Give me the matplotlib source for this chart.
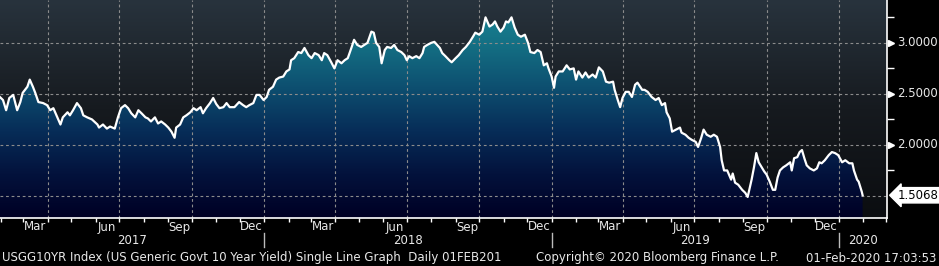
import numpy as np
import pandas as pd
import matplotlib
matplotlib.use("Agg")
import matplotlib.pyplot as plt
import matplotlib.dates as mdates
from matplotlib.colors import LinearSegmentedColormap
from matplotlib.transforms import blended_transform_factory

# USGG10YR yield (roughly every 4 days)
dates_2017 = ["2017-01-30", "2017-02-03", "2017-02-07", "2017-02-11", "2017-02-16", "2017-02-21",
              "2017-02-25", "2017-02-28", "2017-03-06", "2017-03-09", "2017-03-13", "2017-03-16",
              "2017-03-20", "2017-03-26", "2017-03-31", "2017-04-04", "2017-04-08", "2017-04-13",
              "2017-04-17", "2017-04-20", "2017-04-26", "2017-04-29", "2017-05-03", "2017-05-08",
              "2017-05-13", "2017-05-16", "2017-05-21", "2017-05-27", "2017-06-03", "2017-06-05",
              "2017-06-10", "2017-06-15", "2017-06-19", "2017-06-25", "2017-06-29", "2017-07-03",
              "2017-07-08", "2017-07-12", "2017-07-16", "2017-07-21", "2017-07-25", "2017-07-29",
              "2017-08-03", "2017-08-06", "2017-08-10", "2017-08-15", "2017-08-19", "2017-08-23",
              "2017-08-28", "2017-09-01", "2017-09-05", "2017-09-09", "2017-09-11", "2017-09-16",
              "2017-09-20", "2017-09-24", "2017-09-29", "2017-10-03", "2017-10-07", "2017-10-12",
              "2017-10-15", "2017-10-19", "2017-10-24", "2017-10-28", "2017-11-01", "2017-11-05",
              "2017-11-10", "2017-11-14", "2017-11-18", "2017-11-24", "2017-11-30", "2017-12-05",
              "2017-12-09", "2017-12-13", "2017-12-18", "2017-12-22", "2017-12-26", "2017-12-31"]
yield_2017 = [2.47, 2.44, 2.34, 2.46, 2.49, 2.34, 2.42, 2.51, 2.57, 2.64,
              2.57, 2.51, 2.42, 2.41, 2.39, 2.34, 2.36, 2.27, 2.20, 2.27,
              2.32, 2.29, 2.34, 2.41, 2.36, 2.29, 2.27, 2.25, 2.20, 2.17,
              2.20, 2.16, 2.18, 2.16, 2.27, 2.36, 2.39, 2.36, 2.31, 2.27,
              2.34, 2.31, 2.27, 2.26, 2.23, 2.27, 2.21, 2.23, 2.20, 2.17,
              2.13, 2.07, 2.17, 2.20, 2.27, 2.29, 2.32, 2.36, 2.34, 2.37,
              2.31, 2.36, 2.41, 2.46, 2.40, 2.36, 2.37, 2.41, 2.37, 2.37,
              2.42, 2.39, 2.37, 2.39, 2.41, 2.49, 2.49, 2.44]

dates_2018 = ["2018-01-04", "2018-01-07", "2018-01-12", "2018-01-16", "2018-01-20", "2018-01-25",
              "2018-01-29", "2018-02-02", "2018-02-04", "2018-02-08", "2018-02-13", "2018-02-17",
              "2018-02-21", "2018-02-26", "2018-03-02", "2018-03-06", "2018-03-11", "2018-03-15",
              "2018-03-18", "2018-03-22", "2018-03-27", "2018-03-31", "2018-04-04", "2018-04-09",
              "2018-04-13", "2018-04-17", "2018-04-22", "2018-04-25", "2018-04-29", "2018-05-04",
              "2018-05-08", "2018-05-12", "2018-05-17", "2018-05-20", "2018-05-23", "2018-05-27",
              "2018-05-30", "2018-06-03", "2018-06-06", "2018-06-11", "2018-06-15", "2018-06-19",
              "2018-06-24", "2018-06-28", "2018-07-01", "2018-07-04", "2018-07-08", "2018-07-13",
              "2018-07-17", "2018-07-21", "2018-07-23", "2018-07-27", "2018-08-01", "2018-08-05",
              "2018-08-12", "2018-08-15", "2018-08-19", "2018-08-24", "2018-08-27", "2018-09-01",
              "2018-09-05", "2018-09-10", "2018-09-14", "2018-09-19", "2018-09-23", "2018-09-26",
              "2018-10-01", "2018-10-05", "2018-10-09", "2018-10-14", "2018-10-18", "2018-10-21",
              "2018-10-24", "2018-10-28", "2018-11-01", "2018-11-04", "2018-11-07", "2018-11-11",
              "2018-11-15", "2018-11-19", "2018-11-23", "2018-11-28", "2018-12-02", "2018-12-05",
              "2018-12-10", "2018-12-14", "2018-12-18", "2018-12-22", "2018-12-26", "2018-12-28"]
yield_2018 = [2.47, 2.54, 2.57, 2.64, 2.66, 2.67, 2.72, 2.74, 2.83, 2.85,
              2.91, 2.90, 2.95, 2.88, 2.85, 2.90, 2.88, 2.83, 2.90, 2.88,
              2.81, 2.75, 2.83, 2.80, 2.83, 2.85, 2.96, 3.03, 2.98, 2.96,
              2.98, 3.00, 3.11, 3.10, 3.00, 2.96, 2.80, 2.93, 2.96, 2.95,
              2.98, 2.93, 2.91, 2.88, 2.83, 2.87, 2.85, 2.87, 2.85, 2.90,
              2.96, 2.98, 3.00, 3.01, 2.95, 2.90, 2.87, 2.83, 2.81, 2.85,
              2.88, 2.93, 2.96, 3.01, 3.06, 3.10, 3.08, 3.11, 3.25, 3.16,
              3.18, 3.21, 3.16, 3.11, 3.15, 3.21, 3.20, 3.25, 3.15, 3.08,
              3.06, 3.08, 3.00, 2.91, 2.90, 2.93, 2.91, 2.78, 2.80, 2.75]

dates_2019 = ["2019-01-01", "2019-01-04", "2019-01-06", "2019-01-10", "2019-01-15", "2019-01-20",
              "2019-01-24", "2019-01-29", "2019-02-01", "2019-02-04", "2019-02-09", "2019-02-13",
              "2019-02-17", "2019-02-22", "2019-02-26", "2019-03-02", "2019-03-07", "2019-03-11",
              "2019-03-15", "2019-03-20", "2019-03-22", "2019-03-26", "2019-03-29", "2019-04-01",
              "2019-04-05", "2019-04-09", "2019-04-13", "2019-04-17", "2019-04-20", "2019-04-26",
              "2019-04-29", "2019-05-03", "2019-05-08", "2019-05-13", "2019-05-17", "2019-05-21",
              "2019-05-25", "2019-05-27", "2019-05-31", "2019-06-03", "2019-06-08", "2019-06-13",
              "2019-06-15", "2019-06-20", "2019-06-24", "2019-06-28", "2019-07-03", "2019-07-06",
              "2019-07-10", "2019-07-13", "2019-07-17", "2019-07-22", "2019-07-26", "2019-07-30",
              "2019-08-03", "2019-08-05", "2019-08-08", "2019-08-12", "2019-08-17", "2019-08-19",
              "2019-08-22", "2019-08-26", "2019-08-31", "2019-09-04", "2019-09-07", "2019-09-12",
              "2019-09-15", "2019-09-18", "2019-09-21", "2019-09-28", "2019-10-01", "2019-10-05",
              "2019-10-09", "2019-10-12", "2019-10-15", "2019-10-18", "2019-10-22", "2019-10-26",
              "2019-10-31", "2019-11-02", "2019-11-05", "2019-11-09", "2019-11-12", "2019-11-15",
              "2019-11-18", "2019-11-21", "2019-11-25", "2019-11-30", "2019-12-04", "2019-12-07",
              "2019-12-10", "2019-12-14", "2019-12-19", "2019-12-23", "2019-12-27", "2019-12-31"]
yield_2019 = [2.67, 2.56, 2.67, 2.72, 2.72, 2.78, 2.74, 2.75, 2.64, 2.72,
              2.66, 2.71, 2.66, 2.69, 2.66, 2.76, 2.72, 2.62, 2.61, 2.62,
              2.54, 2.44, 2.37, 2.46, 2.52, 2.52, 2.47, 2.59, 2.61, 2.54,
              2.54, 2.52, 2.47, 2.44, 2.46, 2.39, 2.41, 2.32, 2.26, 2.13,
              2.15, 2.17, 2.12, 2.10, 2.07, 2.05, 2.03, 1.98, 2.07, 2.15,
              2.10, 2.08, 2.10, 2.08, 1.98, 1.85, 1.75, 1.75, 1.66, 1.72,
              1.63, 1.61, 1.56, 1.53, 1.49, 1.66, 1.78, 1.92, 1.83, 1.74,
              1.71, 1.64, 1.56, 1.56, 1.68, 1.75, 1.78, 1.80, 1.83, 1.75,
              1.87, 1.88, 1.93, 1.95, 1.87, 1.80, 1.77, 1.75, 1.77, 1.83,
              1.82, 1.85, 1.90, 1.93, 1.92, 1.90]

dates_2020 = ["2020-01-05", "2020-01-09", "2020-01-14", "2020-01-18", "2020-01-20",
              "2020-01-24", "2020-01-26", "2020-01-30", "2020-01-31"]
yield_2020 = [1.83, 1.85, 1.82, 1.82, 1.75, 1.66, 1.64, 1.54, 1.5068]

last_value = 1.5068
grid_levels = [1.5, 2.0, 2.5, 3.0]
labelled_levels = [2.0, 2.5, 3.0]
minor_levels = [1.75, 2.25, 2.75, 3.25]
label_months = [3, 6, 9, 12]
month_names = ["Mar", "Jun", "Sep", "Dec"]
years = [2017, 2018, 2019, 2020]
footer_left = "USGG10YR Index (US Generic Govt 10 Year Yield) Single Line Graph  Daily 01FEB201"
footer_mid = "Copyright\u00a9 2020 Bloomberg Finance L.P."
footer_right = "01-Feb-2020 17:03:53"

dates = pd.to_datetime(dates_2017 + dates_2018 + dates_2019 + dates_2020)
yields = np.array(yield_2017 + yield_2018 + yield_2019 + yield_2020)

x_start = pd.Timestamp("2017-01-30 05:00")
x_end = pd.Timestamp("2020-03-02")
y_lo, y_hi = 1.284, 3.42

txt = "#e8e8e8"
grid_col = "#8c8c8c"
fs = 8.5

fig = plt.figure(figsize=(9.39, 2.66), dpi=100, facecolor="black")
ax = fig.add_axes([0, 48 / 266, 887 / 939, 218 / 266])
ax.set_facecolor("black")

# background gradient of the plot area
bg_cmap = LinearSegmentedColormap.from_list("bg", ["#0b0d10", "#161a1f", "#28333d"])
ax.imshow(np.linspace(0, 1, 256).reshape(-1, 1), cmap=bg_cmap, origin="lower",
          extent=[0, 1, 0, 1], transform=ax.transAxes, aspect="auto", zorder=0)

# area under the line, gradient clipped to the fill
xnum = mdates.date2num(dates)
area = ax.fill_between(xnum, yields, y_lo, color="none", lw=0)
fill_cmap = LinearSegmentedColormap.from_list(
    "fill", ["#000024", "#03123c", "#072d58", "#0d4f70", "#147084", "#1a8898"])
im = ax.imshow(np.linspace(0, 1, 256).reshape(-1, 1), cmap=fill_cmap, origin="lower",
               extent=[xnum[0], xnum[-1], y_lo, y_hi], aspect="auto", zorder=1)
im.set_clip_path(area.get_paths()[0], transform=ax.transData)

ax.plot(xnum, yields, color="white", lw=1.6, zorder=3, solid_joinstyle="round")

ax.set_xlim(x_start, x_end)
ax.set_ylim(y_lo, y_hi)

# dashed grid: quarter starts and half-percent levels
for q in mdates.MonthLocator(bymonth=[1, 4, 7, 10]).tick_values(x_start, x_end):
    if mdates.date2num(x_start) < q < mdates.date2num(x_end):
        ax.axvline(q, color=grid_col, lw=0.8, dashes=(2.5, 2.5), zorder=2)
for lvl in grid_levels:
    ax.axhline(lvl, color=grid_col, lw=0.8, dashes=(2.5, 2.5), zorder=2)

for s in ["left", "top"]:
    ax.spines[s].set_visible(False)
for s in ["bottom", "right"]:
    ax.spines[s].set_color("white")
    ax.spines[s].set_linewidth(1.2)

ax.xaxis.set_major_locator(mdates.MonthLocator())
ax.xaxis.set_major_formatter(plt.NullFormatter())
ax.tick_params(axis="x", colors="white", length=3, width=1)
ax.yaxis.tick_right()
ax.set_yticks([])
ax.set_yticks(minor_levels, minor=True)
ax.yaxis.set_minor_formatter(plt.NullFormatter())
ax.tick_params(axis="y", which="minor", colors="white", length=5, width=1)

# right axis labels with little arrow heads
ry = blended_transform_factory(ax.transAxes, ax.transData)
for lvl in labelled_levels:
    ax.plot([1.004], [lvl], marker=">", ms=4, color="white", transform=ry, clip_on=False)
    ax.text(1.011, lvl, f"{lvl:.4f}", transform=ry, color=txt, fontsize=fs,
            ha="left", va="center")
ax.text(1.012, last_value, f"{last_value:.4f}", transform=ry, color="black", fontsize=fs,
        ha="left", va="center",
        bbox=dict(boxstyle="larrow,pad=0.1", fc="white", ec="white"))

# month and year labels under the axis
xf = blended_transform_factory(ax.transData, fig.transFigure)
for yr in years:
    for m, name in zip(label_months, month_names):
        first = pd.Timestamp(yr, m, 1)
        mid = first + (first + pd.offsets.MonthEnd(1) - first) / 2
        if x_start < mid < x_end:
            ax.text(mdates.date2num(mid), 1 - 227 / 266, name, transform=xf, color=txt,
                    fontsize=fs, ha="center", va="center")
    lo = max(pd.Timestamp(yr, 1, 1), x_start)
    hi = min(pd.Timestamp(yr + 1, 1, 1), x_end)
    ax.text(mdates.date2num(lo + (hi - lo) / 2), 1 - 240 / 266, str(yr), transform=xf,
            color=txt, fontsize=fs, ha="center", va="center")
    if pd.Timestamp(yr, 1, 1) > x_start:
        ax.plot([mdates.date2num(pd.Timestamp(yr, 1, 1))] * 2, [1 - 233 / 266, 1 - 247 / 266],
                transform=xf, color="#bbbbbb", lw=1, clip_on=False)

fig.text(0.002, 8 / 266, footer_left, color=txt, fontsize=fs, ha="left", va="center")
fig.text(536 / 939, 8 / 266, footer_mid, color=txt, fontsize=fs, ha="left", va="center")
fig.text(0.997, 8 / 266, footer_right, color=txt, fontsize=fs, ha="right", va="center")

fig.savefig("out.png", dpi=100, facecolor="black")
